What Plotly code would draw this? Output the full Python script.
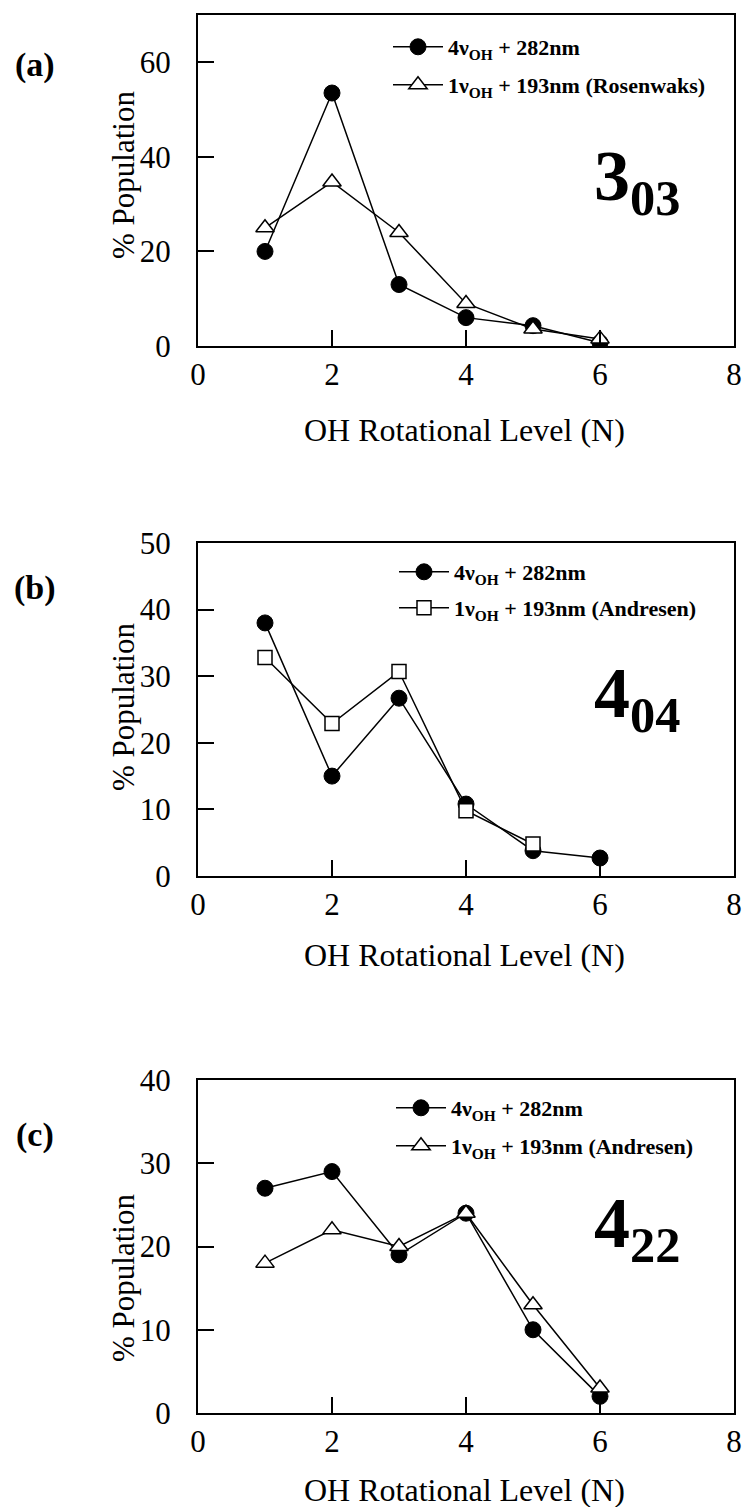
import plotly.graph_objects as go

# OH product rotational populations for three vibrational overtone states
levels = [1, 2, 3, 4, 5, 6]

pop_303_282 = [20, 53.5, 13, 6, 4.3, 0.7]
pop_303_rosenwaks = [25, 34.7, 24, 9, 3.6, 1.5]

pop_404_282 = [38, 15, 26.7, 10.8, 3.8, 2.7]
levels_404_andresen = [1, 2, 3, 4, 5]
pop_404_andresen = [32.8, 22.9, 30.7, 9.8, 4.8]

pop_422_282 = [27, 29, 19, 24, 10, 2]
pop_422_andresen = [18, 22, 20, 24, 13, 3]

x_ticks = [0, 2, 4, 6, 8]

W, H = 745, 1507
SERIF = "Liberation Serif, Times New Roman, serif"


def py(px):
    """Convert a pixel row (from top) to paper coordinates."""
    return 1 - px / H


def px_x(px):
    return px / W


X0, X1 = 198, 734
panels = [
    # (top px, bottom px, y max, y dtick)
    (15, 346, 70, 20),
    (543, 876, 50, 10),
    (1080, 1413, 40, 10),
]

fig = go.Figure()

series = [
    (levels, pop_303_282, levels, pop_303_rosenwaks, "triangle-up",
     "1ν<sub>OH</sub> + 193nm (Rosenwaks)"),
    (levels, pop_404_282, levels_404_andresen, pop_404_andresen, "square",
     "1ν<sub>OH</sub> + 193nm (Andresen)"),
    (levels, pop_422_282, levels, pop_422_andresen, "triangle-up",
     "1ν<sub>OH</sub> + 193nm (Andresen)"),
]

legend_pos = [
    (388, 47, 85),
    (394, 572, 608),
    (391, 1108, 1146),
]

line_style = dict(color="black", width=1.5)

for i, (xa, ya, xb, yb, sym, name_b) in enumerate(series):
    n = i + 1
    xref = "x" if n == 1 else f"x{n}"
    yref = "y" if n == 1 else f"y{n}"
    lg_a = "legend" if i == 0 else f"legend{2 * i + 1}"
    lg_b = f"legend{2 * i + 2}"
    fig.add_trace(go.Scatter(
        x=xa, y=ya, mode="lines+markers", xaxis=xref, yaxis=yref,
        name="4ν<sub>OH</sub> + 282nm", legend=lg_a,
        line=line_style,
        marker=dict(symbol="circle", size=16, color="black",
                    line=dict(color="black", width=1)),
    ))
    fig.add_trace(go.Scatter(
        x=xb, y=yb, mode="lines+markers", xaxis=xref, yaxis=yref,
        name=name_b, legend=lg_b,
        line=line_style,
        marker=dict(symbol=sym, size=16 if sym != "square" else 14,
                    color="white", line=dict(color="black", width=1.5)),
    ))

axis_common = dict(
    showline=True, mirror=True, linecolor="black", linewidth=2,
    showgrid=False, zeroline=False, ticks="inside", ticklen=16,
    tickwidth=1.5, tickcolor="black", automargin=False,
    tickfont=dict(family=SERIF, size=31, color="black"),
)

layout = dict(
    width=W, height=H,
    margin=dict(l=0, r=0, t=0, b=0, autoexpand=False),
    paper_bgcolor="white", plot_bgcolor="white",
    showlegend=True,
    font=dict(family=SERIF, color="black"),
)

annotations = []
panel_tags = ["(a)", "(b)", "(c)"]
tag_y = [65, 588, 1135]
ytitle_y = [175, 707, 1278]
xtitle_y = [430, 955, 1490]
state_labels = ["3<sub>03</sub>", "4<sub>04</sub>", "4<sub>22</sub>"]
state_y = [181, 698, 1228]

for i, (top, bot, ymax, dt) in enumerate(panels):
    n = i + 1
    xk = "xaxis" if n == 1 else f"xaxis{n}"
    yk = "yaxis" if n == 1 else f"yaxis{n}"
    layout[xk] = dict(
        axis_common, domain=[px_x(X0), px_x(X1)], range=[0, 8],
        tickvals=x_ticks, anchor="y" if n == 1 else f"y{n}",
        ticklabelstandoff=0,
    )
    layout[yk] = dict(
        axis_common, domain=[py(bot), py(top)], range=[0, ymax],
        dtick=dt, tick0=0, anchor="x" if n == 1 else f"x{n}",
        ticklabelstandoff=19,
    )

    lx, ly1, ly2 = legend_pos[i]
    lg_a = "legend" if i == 0 else f"legend{2 * i + 1}"
    lg_b = f"legend{2 * i + 2}"
    for key, yy in ((lg_a, ly1), (lg_b, ly2)):
        layout[key] = dict(
            x=px_x(lx), y=py(yy), xanchor="left", yanchor="middle",
            xref="paper", yref="paper",
            bgcolor="rgba(0,0,0,0)", borderwidth=0,
            font=dict(family=SERIF, size=22, color="black", weight="bold"),
            itemwidth=50, tracegroupgap=0,
        )

    annotations.append(dict(
        text=panel_tags[i], x=px_x(35), y=py(tag_y[i]),
        xref="paper", yref="paper", showarrow=False,
        xanchor="center", yanchor="middle",
        font=dict(family=SERIF, size=34, color="black", weight="bold"),
    ))
    annotations.append(dict(
        text="% Population", x=px_x(123), y=py(ytitle_y[i]),
        xref="paper", yref="paper", showarrow=False, textangle=-90,
        xanchor="center", yanchor="middle",
        font=dict(family=SERIF, size=31, color="black"),
    ))
    annotations.append(dict(
        text="OH Rotational Level (N)", x=px_x(464), y=py(xtitle_y[i]),
        xref="paper", yref="paper", showarrow=False,
        xanchor="center", yanchor="middle",
        font=dict(family=SERIF, size=32, color="black"),
    ))
    annotations.append(dict(
        text=state_labels[i], x=px_x(592), y=py(state_y[i]),
        xref="paper", yref="paper", showarrow=False,
        xanchor="left", yanchor="middle",
        font=dict(family=SERIF, size=72, color="black", weight="bold"),
    ))

layout["annotations"] = annotations
fig.update_layout(**layout)

fig.write_html("out.html")
